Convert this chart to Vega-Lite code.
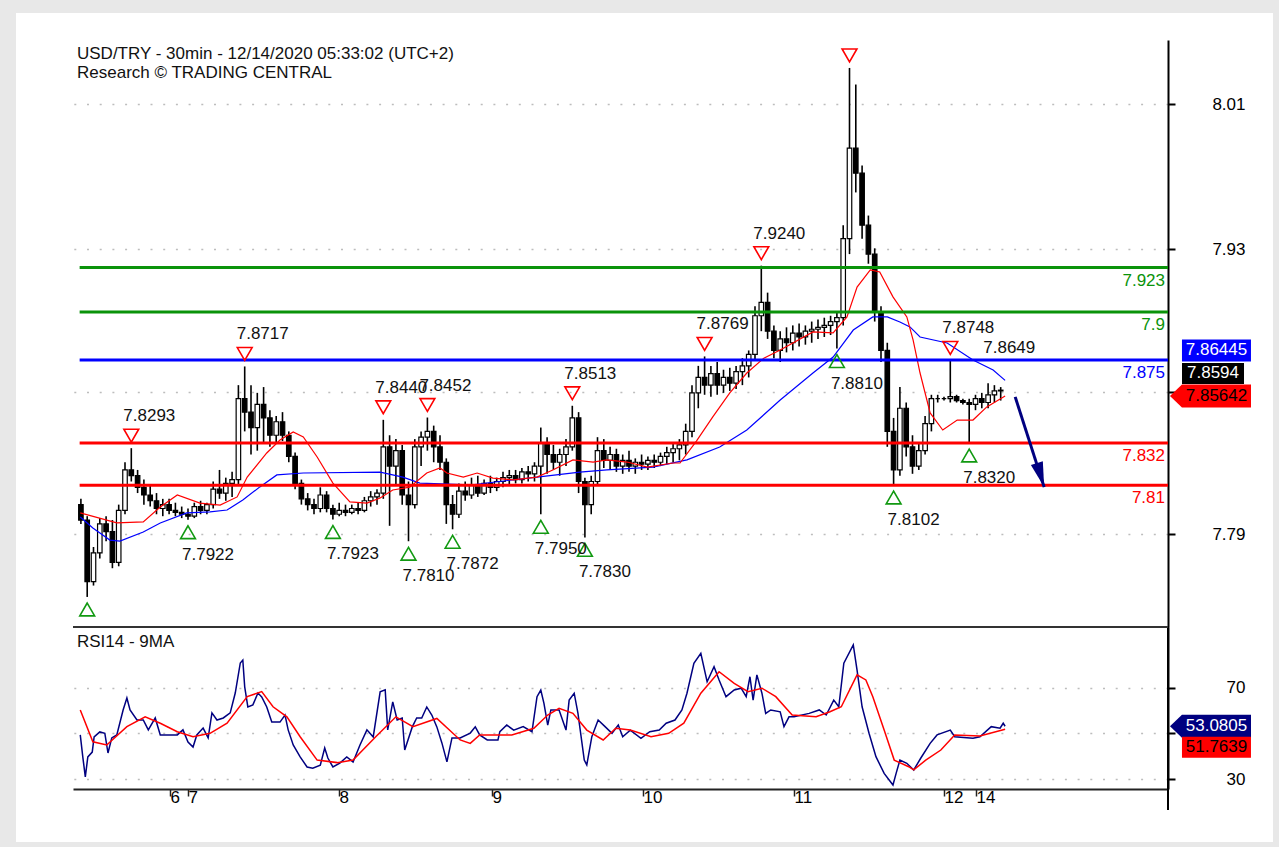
{
"$schema":"https://vega.github.io/schema/vega-lite/v6.json",
"width":1095,"height":749,
"autosize":{"type":"none"},
"padding":{"left":73,"top":40,"right":111,"bottom":58},
"background":"white",
"config":{"font":"Liberation Sans","view":{"stroke":null},"axis":{"titleOpacity":0,"labelFont":"Liberation Sans"}},
"datasets":{
"bars":[
{"t":-17,"o":7.8,"hi":7.803,"lo":7.79,"c":7.792},
{"t":-16,"o":7.792,"hi":7.794,"lo":7.7521,"c":7.76},
{"t":-15,"o":7.76,"hi":7.778,"lo":7.758,"c":7.775},
{"t":-14,"o":7.775,"hi":7.793,"lo":7.772,"c":7.79},
{"t":-13,"o":7.79,"hi":7.794,"lo":7.781,"c":7.786},
{"t":-12,"o":7.786,"hi":7.792,"lo":7.767,"c":7.77},
{"t":-11,"o":7.77,"hi":7.8,"lo":7.768,"c":7.797},
{"t":-10,"o":7.797,"hi":7.822,"lo":7.795,"c":7.818},
{"t":-9,"o":7.818,"hi":7.8293,"lo":7.812,"c":7.815},
{"t":-8,"o":7.815,"hi":7.818,"lo":7.806,"c":7.809},
{"t":-7,"o":7.809,"hi":7.813,"lo":7.8,"c":7.805},
{"t":-6,"o":7.805,"hi":7.81,"lo":7.799,"c":7.802},
{"t":-5,"o":7.802,"hi":7.806,"lo":7.795,"c":7.798},
{"t":-4,"o":7.798,"hi":7.803,"lo":7.794,"c":7.8},
{"t":-3,"o":7.8,"hi":7.803,"lo":7.795,"c":7.797},
{"t":-2,"o":7.797,"hi":7.801,"lo":7.794,"c":7.796},
{"t":-1,"o":7.796,"hi":7.799,"lo":7.793,"c":7.795},
{"t":0,"o":7.795,"hi":7.798,"lo":7.7922,"c":7.794},
{"t":1,"o":7.794,"hi":7.801,"lo":7.793,"c":7.799},
{"t":2,"o":7.799,"hi":7.802,"lo":7.795,"c":7.797},
{"t":3,"o":7.797,"hi":7.801,"lo":7.795,"c":7.8},
{"t":4,"o":7.8,"hi":7.812,"lo":7.798,"c":7.808},
{"t":5,"o":7.808,"hi":7.818,"lo":7.803,"c":7.806},
{"t":6,"o":7.806,"hi":7.814,"lo":7.802,"c":7.811},
{"t":7,"o":7.811,"hi":7.817,"lo":7.804,"c":7.813},
{"t":8,"o":7.813,"hi":7.862,"lo":7.81,"c":7.855},
{"t":9,"o":7.855,"hi":7.8717,"lo":7.838,"c":7.848},
{"t":10,"o":7.848,"hi":7.862,"lo":7.826,"c":7.84},
{"t":11,"o":7.84,"hi":7.858,"lo":7.828,"c":7.852},
{"t":12,"o":7.852,"hi":7.861,"lo":7.832,"c":7.845},
{"t":13,"o":7.845,"hi":7.849,"lo":7.83,"c":7.836},
{"t":14,"o":7.836,"hi":7.846,"lo":7.832,"c":7.843},
{"t":15,"o":7.843,"hi":7.848,"lo":7.833,"c":7.836},
{"t":16,"o":7.836,"hi":7.838,"lo":7.822,"c":7.825},
{"t":17,"o":7.825,"hi":7.827,"lo":7.808,"c":7.811},
{"t":18,"o":7.811,"hi":7.813,"lo":7.8,"c":7.803},
{"t":19,"o":7.803,"hi":7.806,"lo":7.797,"c":7.8},
{"t":20,"o":7.8,"hi":7.803,"lo":7.795,"c":7.798},
{"t":21,"o":7.798,"hi":7.809,"lo":7.796,"c":7.805},
{"t":22,"o":7.805,"hi":7.807,"lo":7.796,"c":7.798},
{"t":23,"o":7.798,"hi":7.8,"lo":7.7923,"c":7.795},
{"t":24,"o":7.795,"hi":7.801,"lo":7.794,"c":7.797},
{"t":25,"o":7.797,"hi":7.8,"lo":7.794,"c":7.796},
{"t":26,"o":7.796,"hi":7.8,"lo":7.795,"c":7.798},
{"t":27,"o":7.798,"hi":7.801,"lo":7.795,"c":7.797},
{"t":28,"o":7.797,"hi":7.804,"lo":7.796,"c":7.802},
{"t":29,"o":7.802,"hi":7.807,"lo":7.799,"c":7.804},
{"t":30,"o":7.804,"hi":7.808,"lo":7.8,"c":7.806},
{"t":31,"o":7.806,"hi":7.844,"lo":7.803,"c":7.83},
{"t":32,"o":7.83,"hi":7.836,"lo":7.789,"c":7.82},
{"t":33,"o":7.82,"hi":7.834,"lo":7.81,"c":7.828},
{"t":34,"o":7.828,"hi":7.831,"lo":7.8,"c":7.805},
{"t":35,"o":7.805,"hi":7.812,"lo":7.781,"c":7.8},
{"t":36,"o":7.8,"hi":7.834,"lo":7.798,"c":7.83},
{"t":37,"o":7.83,"hi":7.838,"lo":7.82,"c":7.835},
{"t":38,"o":7.835,"hi":7.8452,"lo":7.828,"c":7.838},
{"t":39,"o":7.838,"hi":7.841,"lo":7.822,"c":7.83},
{"t":40,"o":7.83,"hi":7.836,"lo":7.818,"c":7.822},
{"t":41,"o":7.822,"hi":7.824,"lo":7.79,"c":7.8},
{"t":42,"o":7.8,"hi":7.805,"lo":7.7872,"c":7.795},
{"t":43,"o":7.795,"hi":7.811,"lo":7.793,"c":7.807},
{"t":44,"o":7.807,"hi":7.812,"lo":7.802,"c":7.805},
{"t":45,"o":7.805,"hi":7.814,"lo":7.803,"c":7.81},
{"t":46,"o":7.81,"hi":7.815,"lo":7.804,"c":7.806},
{"t":47,"o":7.806,"hi":7.813,"lo":7.805,"c":7.811},
{"t":48,"o":7.811,"hi":7.815,"lo":7.806,"c":7.809},
{"t":49,"o":7.809,"hi":7.814,"lo":7.807,"c":7.812},
{"t":50,"o":7.812,"hi":7.817,"lo":7.809,"c":7.814},
{"t":51,"o":7.814,"hi":7.818,"lo":7.81,"c":7.815},
{"t":52,"o":7.815,"hi":7.818,"lo":7.811,"c":7.813},
{"t":53,"o":7.813,"hi":7.819,"lo":7.811,"c":7.817},
{"t":54,"o":7.817,"hi":7.82,"lo":7.812,"c":7.816},
{"t":55,"o":7.816,"hi":7.822,"lo":7.812,"c":7.82},
{"t":56,"o":7.82,"hi":7.84,"lo":7.795,"c":7.832},
{"t":57,"o":7.832,"hi":7.835,"lo":7.816,"c":7.826},
{"t":58,"o":7.826,"hi":7.831,"lo":7.818,"c":7.822},
{"t":59,"o":7.822,"hi":7.829,"lo":7.815,"c":7.826},
{"t":60,"o":7.826,"hi":7.834,"lo":7.82,"c":7.83},
{"t":61,"o":7.83,"hi":7.8513,"lo":7.828,"c":7.845},
{"t":62,"o":7.845,"hi":7.848,"lo":7.806,"c":7.812},
{"t":63,"o":7.812,"hi":7.814,"lo":7.783,"c":7.8},
{"t":64,"o":7.8,"hi":7.815,"lo":7.795,"c":7.812},
{"t":65,"o":7.812,"hi":7.835,"lo":7.81,"c":7.828},
{"t":66,"o":7.828,"hi":7.834,"lo":7.819,"c":7.823},
{"t":67,"o":7.823,"hi":7.83,"lo":7.818,"c":7.826},
{"t":68,"o":7.826,"hi":7.829,"lo":7.817,"c":7.82},
{"t":69,"o":7.82,"hi":7.826,"lo":7.816,"c":7.823},
{"t":70,"o":7.823,"hi":7.828,"lo":7.817,"c":7.82},
{"t":71,"o":7.82,"hi":7.824,"lo":7.816,"c":7.822},
{"t":72,"o":7.822,"hi":7.826,"lo":7.818,"c":7.821},
{"t":73,"o":7.821,"hi":7.825,"lo":7.818,"c":7.823},
{"t":74,"o":7.823,"hi":7.826,"lo":7.819,"c":7.822},
{"t":75,"o":7.822,"hi":7.827,"lo":7.82,"c":7.825},
{"t":76,"o":7.825,"hi":7.83,"lo":7.821,"c":7.827},
{"t":77,"o":7.827,"hi":7.832,"lo":7.822,"c":7.829},
{"t":78,"o":7.829,"hi":7.834,"lo":7.823,"c":7.831},
{"t":79,"o":7.831,"hi":7.842,"lo":7.826,"c":7.838},
{"t":80,"o":7.838,"hi":7.862,"lo":7.835,"c":7.858},
{"t":81,"o":7.858,"hi":7.872,"lo":7.85,"c":7.866},
{"t":82,"o":7.866,"hi":7.8769,"lo":7.857,"c":7.862},
{"t":83,"o":7.862,"hi":7.872,"lo":7.856,"c":7.868},
{"t":84,"o":7.868,"hi":7.874,"lo":7.857,"c":7.862},
{"t":85,"o":7.862,"hi":7.87,"lo":7.858,"c":7.866},
{"t":86,"o":7.866,"hi":7.871,"lo":7.859,"c":7.863},
{"t":87,"o":7.863,"hi":7.872,"lo":7.86,"c":7.869},
{"t":88,"o":7.869,"hi":7.876,"lo":7.862,"c":7.872},
{"t":89,"o":7.872,"hi":7.88,"lo":7.866,"c":7.878},
{"t":90,"o":7.878,"hi":7.903,"lo":7.875,"c":7.898},
{"t":91,"o":7.898,"hi":7.924,"lo":7.89,"c":7.905},
{"t":92,"o":7.905,"hi":7.91,"lo":7.886,"c":7.89},
{"t":93,"o":7.89,"hi":7.893,"lo":7.876,"c":7.88},
{"t":94,"o":7.88,"hi":7.89,"lo":7.874,"c":7.886},
{"t":95,"o":7.886,"hi":7.892,"lo":7.879,"c":7.884},
{"t":96,"o":7.884,"hi":7.893,"lo":7.88,"c":7.889},
{"t":97,"o":7.889,"hi":7.894,"lo":7.882,"c":7.887},
{"t":98,"o":7.887,"hi":7.893,"lo":7.883,"c":7.89},
{"t":99,"o":7.89,"hi":7.895,"lo":7.884,"c":7.891},
{"t":100,"o":7.891,"hi":7.896,"lo":7.886,"c":7.892},
{"t":101,"o":7.892,"hi":7.897,"lo":7.887,"c":7.893},
{"t":102,"o":7.893,"hi":7.898,"lo":7.888,"c":7.895},
{"t":103,"o":7.895,"hi":7.9,"lo":7.881,"c":7.897},
{"t":104,"o":7.897,"hi":7.945,"lo":7.893,"c":7.938},
{"t":105,"o":7.938,"hi":8.0266,"lo":7.93,"c":7.985},
{"t":106,"o":7.985,"hi":8.018,"lo":7.962,"c":7.972},
{"t":107,"o":7.972,"hi":7.976,"lo":7.938,"c":7.945},
{"t":108,"o":7.945,"hi":7.95,"lo":7.925,"c":7.93},
{"t":109,"o":7.93,"hi":7.933,"lo":7.895,"c":7.9},
{"t":110,"o":7.9,"hi":7.903,"lo":7.874,"c":7.88},
{"t":111,"o":7.88,"hi":7.884,"lo":7.83,"c":7.838},
{"t":112,"o":7.838,"hi":7.845,"lo":7.8102,"c":7.818},
{"t":113,"o":7.818,"hi":7.861,"lo":7.815,"c":7.85},
{"t":114,"o":7.85,"hi":7.853,"lo":7.825,"c":7.83},
{"t":115,"o":7.83,"hi":7.836,"lo":7.816,"c":7.82},
{"t":116,"o":7.82,"hi":7.832,"lo":7.818,"c":7.828},
{"t":117,"o":7.828,"hi":7.846,"lo":7.826,"c":7.842},
{"t":118,"o":7.842,"hi":7.857,"lo":7.838,"c":7.855},
{"t":119,"o":7.855,"hi":7.857,"lo":7.853,"c":7.855},
{"t":120,"o":7.855,"hi":7.856,"lo":7.854,"c":7.855},
{"t":121,"o":7.855,"hi":7.8748,"lo":7.853,"c":7.856},
{"t":122,"o":7.856,"hi":7.857,"lo":7.853,"c":7.854},
{"t":123,"o":7.854,"hi":7.855,"lo":7.852,"c":7.853},
{"t":124,"o":7.853,"hi":7.855,"lo":7.832,"c":7.852},
{"t":125,"o":7.852,"hi":7.857,"lo":7.849,"c":7.855},
{"t":126,"o":7.855,"hi":7.858,"lo":7.85,"c":7.853},
{"t":127,"o":7.853,"hi":7.863,"lo":7.85,"c":7.857},
{"t":128,"o":7.857,"hi":7.862,"lo":7.853,"c":7.859},
{"t":129,"o":7.859,"hi":7.861,"lo":7.854,"c":7.8594}
],
"maFast":[
{"t":-17.1,"v":7.7957},{"t":-11.3,"v":7.7905},{"t":-7.1,"v":7.791},{"t":-4.4,"v":7.7988},{"t":-1.7,"v":7.805},{"t":1.9,"v":7.8008},{"t":5.1,"v":7.7998},{"t":7.8,"v":7.804},{"t":9.4,"v":7.8143},{"t":12.5,"v":7.8268},{"t":14.6,"v":7.8335},{"t":16.7,"v":7.8377},{"t":18.3,"v":7.8351},{"t":20.5,"v":7.8247},{"t":23,"v":7.8112},{"t":25.7,"v":7.8014},{"t":28.4,"v":7.8008},{"t":30.5,"v":7.8034},{"t":32.5,"v":7.8076},{"t":35.2,"v":7.8091},{"t":37.9,"v":7.8164},{"t":40,"v":7.819},{"t":41.1,"v":7.8164},{"t":43.7,"v":7.8143},{"t":45.9,"v":7.8164},{"t":48.4,"v":7.8138},{"t":51.6,"v":7.8128},{"t":55.4,"v":7.8143},{"t":57.9,"v":7.818},{"t":61.1,"v":7.8232},{"t":64.3,"v":7.8221},{"t":66.5,"v":7.8232},{"t":69.7,"v":7.8221},{"t":72.9,"v":7.8195},{"t":77,"v":7.8216},{"t":78.1,"v":7.8216},{"t":80.7,"v":7.833},{"t":83.3,"v":7.8455},{"t":86,"v":7.858},{"t":88.7,"v":7.8683},{"t":91.4,"v":7.876},{"t":94,"v":7.8802},{"t":99.2,"v":7.8896},{"t":102.4,"v":7.8891},{"t":104.6,"v":7.8974},{"t":106.2,"v":7.9129},{"t":108.3,"v":7.9218},{"t":109.8,"v":7.9207},{"t":111.9,"v":7.9078},{"t":114.1,"v":7.8974},{"t":115.1,"v":7.8854},{"t":116.2,"v":7.8683},{"t":117.8,"v":7.8476},{"t":119.8,"v":7.8387},{"t":122.1,"v":7.8439},{"t":124.6,"v":7.8439},{"t":126.8,"v":7.8507},{"t":129.7,"v":7.8564}
],
"maSlow":[
{"t":-17.1,"v":7.7936},{"t":-15.1,"v":7.7879},{"t":-12.4,"v":7.7816},{"t":-10.8,"v":7.7811},{"t":-7.1,"v":7.7858},{"t":-4.4,"v":7.7905},{"t":-0.2,"v":7.7957},{"t":3.5,"v":7.7962},{"t":6.2,"v":7.7972},{"t":8.7,"v":7.8024},{"t":11.4,"v":7.8092},{"t":14.1,"v":7.8154},{"t":18.3,"v":7.8164},{"t":30.5,"v":7.8169},{"t":34.1,"v":7.8143},{"t":36.8,"v":7.8112},{"t":44.8,"v":7.8102},{"t":55.4,"v":7.8143},{"t":62.2,"v":7.8169},{"t":66.5,"v":7.818},{"t":73.8,"v":7.8195},{"t":79.2,"v":7.8232},{"t":84.4,"v":7.8299},{"t":88.7,"v":7.8387},{"t":94,"v":7.8543},{"t":99.2,"v":7.8683},{"t":102.4,"v":7.8766},{"t":105.6,"v":7.8906},{"t":108.7,"v":7.8974},{"t":111,"v":7.8974},{"t":113,"v":7.8948},{"t":114.6,"v":7.8922},{"t":116.2,"v":7.887},{"t":120.5,"v":7.8839},{"t":124.6,"v":7.875},{"t":127.8,"v":7.8699},{"t":129.7,"v":7.8645}
],
"levels":[
{"level":7.923,"kind":"resistance"},{"level":7.9,"kind":"resistance"},{"level":7.875,"kind":"pivot"},{"level":7.832,"kind":"support"},{"level":7.81,"kind":"support"}
],
"pivots":[
{"t":-9,"price":7.8293,"kind":"high","marked":true,"labelled":true},
{"t":9,"price":7.8717,"kind":"high","marked":true,"labelled":true},
{"t":31,"price":7.844,"kind":"high","marked":true,"labelled":true},
{"t":38,"price":7.8452,"kind":"high","marked":true,"labelled":true},
{"t":61,"price":7.8513,"kind":"high","marked":true,"labelled":true},
{"t":82,"price":7.8769,"kind":"high","marked":true,"labelled":true},
{"t":91,"price":7.924,"kind":"high","marked":true,"labelled":true},
{"t":105,"price":8.0266,"kind":"high","marked":true,"labelled":false},
{"t":121,"price":7.8748,"kind":"high","marked":true,"labelled":true},
{"t":127.5,"price":7.8649,"kind":"high","marked":false,"labelled":true},
{"t":-16,"price":7.7521,"kind":"low","marked":true,"labelled":false},
{"t":0,"price":7.7922,"kind":"low","marked":true,"labelled":true},
{"t":23,"price":7.7923,"kind":"low","marked":true,"labelled":true},
{"t":35,"price":7.781,"kind":"low","marked":true,"labelled":true},
{"t":42,"price":7.7872,"kind":"low","marked":true,"labelled":true},
{"t":56,"price":7.795,"kind":"low","marked":true,"labelled":true},
{"t":63,"price":7.783,"kind":"low","marked":true,"labelled":true},
{"t":103,"price":7.881,"kind":"low","marked":true,"labelled":true},
{"t":112,"price":7.8102,"kind":"low","marked":true,"labelled":true},
{"t":124,"price":7.832,"kind":"low","marked":true,"labelled":true}
],
"arrow":[{"t":131.3,"price":7.8559},{"t":135.9,"price":7.8091}],
"tags":[
{"series":"MA slow","value":7.86445},{"series":"Last","value":7.8594},{"series":"MA fast","value":7.85642},{"series":"RSI","value":53.0805},{"series":"RSI MA","value":51.7639}
],
"rsi":[
{"t":-17.1,"v":49.3},{"t":-16.7,"v":39.7},{"t":-16.3,"v":31},{"t":-15.9,"v":39.7},{"t":-15.2,"v":41.8},{"t":-14.9,"v":48.4},{"t":-14,"v":50.6},{"t":-13.2,"v":50},{"t":-12.7,"v":41.4},{"t":-12.1,"v":48},{"t":-11.3,"v":49.3},{"t":-10.3,"v":60.2},{"t":-9.7,"v":65.4},{"t":-9.2,"v":60.2},{"t":-8.1,"v":55.8},{"t":-7.1,"v":55.8},{"t":-6.3,"v":51.5},{"t":-5.2,"v":56.7},{"t":-4.4,"v":49.3},{"t":-1.7,"v":49.3},{"t":-0.8,"v":51.5},{"t":0,"v":46.2},{"t":0.8,"v":44},{"t":1.4,"v":49.3},{"t":2.4,"v":52.3},{"t":3.2,"v":48},{"t":3.8,"v":58.9},{"t":4.6,"v":55.8},{"t":5.6,"v":56.7},{"t":6.7,"v":58.9},{"t":7.5,"v":67.6},{"t":8.3,"v":80.7},{"t":8.7,"v":82},{"t":9,"v":70.3},{"t":9.5,"v":61.5},{"t":10.3,"v":62.4},{"t":11.1,"v":67.6},{"t":11.7,"v":65.9},{"t":12.5,"v":61.5},{"t":13.3,"v":54.9},{"t":14.6,"v":54.9},{"t":15.4,"v":58},{"t":15.9,"v":51.5},{"t":16.7,"v":44.9},{"t":17.8,"v":39.7},{"t":18.9,"v":35.3},{"t":19.8,"v":34.8},{"t":21,"v":36.1},{"t":21.7,"v":43.6},{"t":22.2,"v":39.2},{"t":23,"v":35.3},{"t":24.1,"v":37},{"t":25.2,"v":39.7},{"t":26.2,"v":37.5},{"t":27.3,"v":44.9},{"t":28.4,"v":51.5},{"t":29.4,"v":48.4},{"t":30.5,"v":68.1},{"t":31.3,"v":69},{"t":31.7,"v":51.5},{"t":32.5,"v":63.7},{"t":33.2,"v":55.8},{"t":34,"v":56.7},{"t":34.4,"v":42.7},{"t":35.6,"v":52.8},{"t":36.3,"v":56.7},{"t":37.1,"v":56.7},{"t":37.9,"v":61.5},{"t":38.7,"v":58},{"t":39.5,"v":52.8},{"t":40.3,"v":45.8},{"t":41.1,"v":37.5},{"t":41.9,"v":48},{"t":43.2,"v":48},{"t":44.8,"v":50.1},{"t":45.6,"v":52.8},{"t":46.3,"v":49.3},{"t":47.5,"v":47.1},{"t":49.2,"v":47.1},{"t":49.5,"v":50.7},{"t":50.6,"v":53.6},{"t":51.7,"v":51.4},{"t":53.2,"v":52.9},{"t":54.6,"v":50.7},{"t":55.4,"v":66},{"t":56,"v":68.9},{"t":56.5,"v":63.1},{"t":57.1,"v":53.6},{"t":57.6,"v":60.2},{"t":58.9,"v":60.2},{"t":60,"v":51.4},{"t":60.5,"v":64.5},{"t":61.3,"v":67.5},{"t":61.9,"v":58.7},{"t":62.9,"v":38.3},{"t":63.3,"v":36.2},{"t":64.1,"v":48.5},{"t":65.1,"v":55.8},{"t":66.2,"v":52.9},{"t":67.3,"v":50},{"t":68.3,"v":53.6},{"t":69,"v":48.5},{"t":70.2,"v":51.4},{"t":71.9,"v":47.8},{"t":73.3,"v":50.7},{"t":74.8,"v":51.4},{"t":75.9,"v":54.4},{"t":77.3,"v":55.8},{"t":78.4,"v":60.2},{"t":79.2,"v":67.5},{"t":80.3,"v":80.6},{"t":81.4,"v":84.9},{"t":82.4,"v":72.5},{"t":83.5,"v":79.1},{"t":84.3,"v":73.3},{"t":85.4,"v":66},{"t":86.7,"v":68.9},{"t":87.8,"v":69.7},{"t":88.6,"v":66},{"t":89.2,"v":74.7},{"t":89.7,"v":64.5},{"t":90.3,"v":75.5},{"t":91.1,"v":67.5},{"t":91.7,"v":58.7},{"t":92.5,"v":60.2},{"t":94,"v":59.4},{"t":94.6,"v":52.9},{"t":95.4,"v":57.2},{"t":96.2,"v":57.2},{"t":98.6,"v":58.7},{"t":100.2,"v":60.2},{"t":101.3,"v":58},{"t":102.5,"v":64.5},{"t":103.3,"v":61.6},{"t":104.1,"v":80.6},{"t":105.6,"v":88.6},{"t":106.2,"v":77.6},{"t":107,"v":61.6},{"t":108.1,"v":50},{"t":109.2,"v":39.8},{"t":110.5,"v":32.5},{"t":111.9,"v":27.4},{"t":112.4,"v":32.5},{"t":113,"v":38.3},{"t":114.1,"v":36.9},{"t":115.2,"v":34},{"t":116.3,"v":39.1},{"t":117.8,"v":45.6},{"t":118.9,"v":49.3},{"t":121,"v":51.4},{"t":121.7,"v":48.5},{"t":124.6,"v":47.8},{"t":125.7,"v":48.5},{"t":127.5,"v":52.9},{"t":128.9,"v":52.2},{"t":129.4,"v":54.4},{"t":129.7,"v":53.08}
],
"rsiMa":[
{"t":-17.1,"v":60.2},{"t":-15.1,"v":46.3},{"t":-12.9,"v":44.9},{"t":-9.7,"v":52.9},{"t":-6.8,"v":57.2},{"t":-4.4,"v":54.4},{"t":-1.7,"v":50.7},{"t":0.8,"v":48.5},{"t":3.5,"v":50},{"t":6.2,"v":54.4},{"t":9.4,"v":66},{"t":11.7,"v":68.2},{"t":13.5,"v":61.6},{"t":15.7,"v":57.2},{"t":17.8,"v":48.5},{"t":20.5,"v":38.3},{"t":23.7,"v":37.2},{"t":26.2,"v":38.3},{"t":29.8,"v":48.5},{"t":33,"v":57.2},{"t":35.7,"v":52.9},{"t":39.5,"v":56.5},{"t":43.2,"v":47.1},{"t":44.8,"v":45.6},{"t":46.3,"v":49.3},{"t":51.4,"v":49.3},{"t":54.9,"v":52.2},{"t":57.1,"v":58},{"t":58.9,"v":60.9},{"t":61.1,"v":58.7},{"t":63.3,"v":51.4},{"t":65.9,"v":47.1},{"t":67.9,"v":52.2},{"t":70.2,"v":51.4},{"t":73.5,"v":48.5},{"t":76.3,"v":50},{"t":78.7,"v":54.4},{"t":81.4,"v":67.5},{"t":84.3,"v":76.9},{"t":86.7,"v":71.8},{"t":88.9,"v":68.2},{"t":91.1,"v":69.7},{"t":93.3,"v":66},{"t":95.9,"v":58},{"t":99.7,"v":57.2},{"t":101.9,"v":59.4},{"t":103.7,"v":61.6},{"t":106.2,"v":75.5},{"t":107.6,"v":73.3},{"t":108.7,"v":66},{"t":110.5,"v":51.4},{"t":112.1,"v":38.3},{"t":114.4,"v":35.4},{"t":115.2,"v":34},{"t":117.1,"v":38.3},{"t":119.5,"v":42.7},{"t":121.7,"v":49.3},{"t":125.7,"v":48.8},{"t":129.7,"v":51.76}
]
},
"resolve":{"scale":{"y":"independent"},"axis":{"y":"independent"}},
"layer":[
{
"layer":[
{"data":{"values":[{"part":"frame"}]},
 "mark":{"type":"rect","fill":"transparent","stroke":"#e8e8e8","strokeWidth":26},
 "encoding":{"x":{"datum":-29.365,"type":"quantitative"},"x2":{"datum":174.286},"y":{"datum":8.0619,"type":"quantitative"},"y2":{"datum":7.6182}}},
{"data":{"name":"bars"},
 "mark":{"type":"rule","color":"#000","strokeWidth":1.6},
 "encoding":{
  "x":{"field":"t","type":"quantitative","title":null,
   "scale":{"domain":[-18.254,155.556],"nice":false,"zero":false,"padding":0},
   "axis":{"title":null,"values":[-2.857,0,23.97,48.25,72.22,96.19,120,125.08],
    "labelExpr":"datum.value < -1 ? '6' : datum.value < 1 ? '7' : datum.value < 30 ? '8' : datum.value < 60 ? '9' : datum.value < 80 ? '10' : datum.value < 110 ? '11' : datum.value < 122 ? '12' : '14'",
    "grid":false,"domainColor":"#222","domainWidth":2,"tickColor":"#222","tickSize":7,"tickWidth":1.5,
    "labelAlign":"left","labelBaseline":"top","labelPadding":-7,"labelDx":3,"labelFontSize":17,"labelColor":"#000","labelFlush":false,"labelOverlap":false}},
  "y":{"field":"lo","type":"quantitative","title":null,
   "scale":{"domain":[7.7365,8.0411],"range":[587,0],"nice":false,"zero":false,"padding":0},
   "axis":{"orient":"right","title":null,"values":[8.0077,7.9326,7.8586,7.7846],
    "labelExpr":"datum.value > 8 ? '8.01' : datum.value > 7.9 ? '7.93' : datum.value > 7.8 ? '' : '7.79'",
    "grid":true,"gridColor":"#bdbdbd","gridDash":[2,10.7],"gridWidth":1.5,
    "domainColor":"#000","domainWidth":2,"tickColor":"#000","tickSize":7,"tickWidth":2,
    "labelAlign":"right","labelBaseline":"middle","labelPadding":70,"labelFontSize":17,"labelColor":"#000"}},
  "y2":{"field":"hi"}}},
{"data":{"name":"bars"},
 "mark":{"type":"bar","width":4.5,"stroke":"#000","strokeWidth":1.2},
 "encoding":{"x":{"field":"t","type":"quantitative"},"y":{"field":"o","type":"quantitative"},"y2":{"field":"c"},
  "fill":{"condition":{"test":"datum.c < datum.o","value":"#000000"},"value":"#ffffff"}}},
{"data":{"name":"maSlow"},
 "mark":{"type":"line","color":"#0000ff","strokeWidth":1.2},
 "encoding":{"x":{"field":"t","type":"quantitative"},"y":{"field":"v","type":"quantitative"}}},
{"data":{"name":"maFast"},
 "mark":{"type":"line","color":"#ff0000","strokeWidth":1.2},
 "encoding":{"x":{"field":"t","type":"quantitative"},"y":{"field":"v","type":"quantitative"}}},
{"data":{"name":"levels"},
 "mark":{"type":"rule","strokeWidth":3},
 "encoding":{"x":{"datum":-17.2,"type":"quantitative"},"x2":{"datum":155.556},"y":{"field":"level","type":"quantitative"},
  "color":{"field":"kind","type":"nominal","legend":null,"scale":{"domain":["resistance","pivot","support"],"range":["#0a930a","#0000ff","#ff0000"]}}}},
{"data":{"name":"levels"},
 "mark":{"type":"text","align":"right","baseline":"middle","dx":-3,"dy":13,"fontSize":17},
 "encoding":{"x":{"datum":155.556,"type":"quantitative"},"y":{"field":"level","type":"quantitative"},"text":{"field":"level","type":"nominal"},
  "color":{"field":"kind","type":"nominal","legend":null,"scale":{"domain":["resistance","pivot","support"],"range":["#0a930a","#0000ff","#ff0000"]}}}},
{"data":{"name":"pivots"},"transform":[{"filter":"datum.kind == 'high' && datum.marked"}],
 "mark":{"type":"point","shape":"triangle-down","filled":false,"color":"#ff0000","strokeWidth":1.6,"size":220,"opacity":1,"yOffset":-12.5},
 "encoding":{"x":{"field":"t","type":"quantitative"},"y":{"field":"price","type":"quantitative"}}},
{"data":{"name":"pivots"},"transform":[{"filter":"datum.kind == 'low' && datum.marked"}],
 "mark":{"type":"point","shape":"triangle-up","filled":false,"color":"#119911","strokeWidth":1.6,"size":220,"opacity":1,"yOffset":12.5},
 "encoding":{"x":{"field":"t","type":"quantitative"},"y":{"field":"price","type":"quantitative"}}},
{"data":{"name":"pivots"},"transform":[{"filter":"datum.kind == 'high' && datum.labelled"}],
 "mark":{"type":"text","align":"left","baseline":"middle","dx":-8,"dy":-32,"fontSize":17,"color":"#111"},
 "encoding":{"x":{"field":"t","type":"quantitative"},"y":{"field":"price","type":"quantitative"},"text":{"field":"price","type":"quantitative","format":".4f"}}},
{"data":{"name":"pivots"},"transform":[{"filter":"datum.kind == 'low' && datum.labelled"}],
 "mark":{"type":"text","align":"left","baseline":"middle","dx":-6,"dy":35,"fontSize":17,"color":"#111"},
 "encoding":{"x":{"field":"t","type":"quantitative"},"y":{"field":"price","type":"quantitative"},"text":{"field":"price","type":"quantitative","format":".4f"}}},
{"data":{"name":"arrow"},
 "mark":{"type":"line","color":"#000080","strokeWidth":3},
 "encoding":{"x":{"field":"t","type":"quantitative"},"y":{"field":"price","type":"quantitative"}}},
{"data":{"name":"arrow"},"transform":[{"filter":"datum.t > 135"}],
 "mark":{"type":"point","shape":"M0,0L-0.5,-2L0.5,-2Z","size":625,"filled":true,"color":"#000080","opacity":1,"angle":343},
 "encoding":{"x":{"field":"t","type":"quantitative"},"y":{"field":"price","type":"quantitative"}}},
{"data":{"values":[{"part":"axis"}]},
 "mark":{"type":"rule","color":"#000","strokeWidth":2},
 "encoding":{"x":{"datum":155.556,"type":"quantitative"},"y":{"datum":7.7365,"type":"quantitative"},"y2":{"datum":7.6415}}},
{"data":{"values":[{"part":"separator"}]},
 "mark":{"type":"rule","color":"#333","strokeWidth":2},
 "encoding":{"y":{"datum":7.7365,"type":"quantitative"}}},
{"data":{"values":[{"line":"USD/TRY - 30min - 12/14/2020 05:33:02 (UTC+2)","pos":8.0311},{"line":"Research © TRADING CENTRAL","pos":8.0216}]},
 "mark":{"type":"text","align":"left","baseline":"alphabetic","fontSize":17,"color":"#111"},
 "encoding":{"x":{"datum":-17.62,"type":"quantitative"},"y":{"field":"pos","type":"quantitative"},"text":{"field":"line","type":"nominal"}}},
{"data":{"name":"tags"},"transform":[{"filter":"datum.series == 'MA slow'"}],
 "mark":{"type":"point","shape":"M-1,-0.319L1,-0.319L1,0.319L-1,0.319Z","size":4761,"filled":true,"color":"#0000ff","opacity":1,"yOffset":-30},
 "encoding":{"x":{"datum":163.25,"type":"quantitative"},"y":{"field":"value","type":"quantitative"}}},
{"data":{"name":"tags"},"transform":[{"filter":"datum.series == 'MA slow'"}],
 "mark":{"type":"text","align":"center","baseline":"middle","dy":-30,"fontSize":17,"color":"#ffffff"},
 "encoding":{"x":{"datum":163.25,"type":"quantitative"},"y":{"field":"value","type":"quantitative"},"text":{"field":"value","type":"nominal"}}},
{"data":{"name":"tags"},"transform":[{"filter":"datum.series == 'Last'"}],
 "mark":{"type":"point","shape":"M-1,-0.339L1,-0.339L1,0.339L-1,0.339Z","size":3844,"filled":true,"color":"#000000","opacity":1,"yOffset":-16.7},
 "encoding":{"x":{"datum":162.7,"type":"quantitative"},"y":{"field":"value","type":"quantitative"}}},
{"data":{"name":"tags"},"transform":[{"filter":"datum.series == 'Last'"}],
 "mark":{"type":"text","align":"center","baseline":"middle","dy":-16.7,"fontSize":17,"color":"#ffffff"},
 "encoding":{"x":{"datum":162.7,"type":"quantitative"},"y":{"field":"value","type":"quantitative"},"text":{"field":"value","type":"nominal"}}},
{"data":{"name":"tags"},"transform":[{"filter":"datum.series == 'MA fast'"}],
 "mark":{"type":"point","shape":"M-1,0L-0.704,-0.284L1,-0.284L1,0.284L-0.704,0.284Z","size":6561,"filled":true,"color":"#ff0000","opacity":1},
 "encoding":{"x":{"datum":162.3,"type":"quantitative"},"y":{"field":"value","type":"quantitative"}}},
{"data":{"name":"tags"},"transform":[{"filter":"datum.series == 'MA fast'"}],
 "mark":{"type":"text","align":"center","baseline":"middle","fontSize":17,"color":"#000000"},
 "encoding":{"x":{"datum":163.25,"type":"quantitative"},"y":{"field":"value","type":"quantitative"},"text":{"field":"value","type":"nominal"}}}
]
},
{
"layer":[
{"data":{"name":"rsi"},
 "mark":{"type":"line","color":"#000080","strokeWidth":1.5},
 "encoding":{"x":{"field":"t","type":"quantitative"},
  "y":{"field":"v","type":"quantitative","title":null,
   "scale":{"domain":[25.68,96.42],"range":[749,587],"nice":false,"zero":false},
   "axis":{"orient":"right","title":null,"values":[30,50,70],"labelExpr":"datum.value == 50 ? '' : datum.label",
    "grid":true,"gridColor":"#bdbdbd","gridDash":[2,10.7],"gridWidth":1.5,
    "domainColor":"#000","domainWidth":2,"tickColor":"#000","tickSize":7,"tickWidth":2,
    "labelAlign":"right","labelBaseline":"middle","labelPadding":70,"labelFontSize":17,"labelColor":"#000"}}}},
{"data":{"name":"rsiMa"},
 "mark":{"type":"line","color":"#ff0000","strokeWidth":1.5},
 "encoding":{"x":{"field":"t","type":"quantitative"},"y":{"field":"v","type":"quantitative"}}},
{"data":{"values":[{"name":"RSI14 - 9MA","pos":87.8}]},
 "mark":{"type":"text","align":"left","baseline":"alphabetic","fontSize":17,"color":"#111"},
 "encoding":{"x":{"datum":-17.62,"type":"quantitative"},"y":{"field":"pos","type":"quantitative"},"text":{"field":"name","type":"nominal"}}},
{"data":{"name":"tags"},"transform":[{"filter":"datum.series == 'RSI'"}],
 "mark":{"type":"point","shape":"M-1,0L-0.704,-0.284L1,-0.284L1,0.284L-0.704,0.284Z","size":6561,"filled":true,"color":"#000080","opacity":1},
 "encoding":{"x":{"datum":162.3,"type":"quantitative"},"y":{"field":"value","type":"quantitative"}}},
{"data":{"name":"tags"},"transform":[{"filter":"datum.series == 'RSI'"}],
 "mark":{"type":"text","align":"center","baseline":"middle","fontSize":17,"color":"#ffffff"},
 "encoding":{"x":{"datum":163.25,"type":"quantitative"},"y":{"field":"value","type":"quantitative"},"text":{"field":"value","type":"nominal"}}},
{"data":{"name":"tags"},"transform":[{"filter":"datum.series == 'RSI MA'"}],
 "mark":{"type":"point","shape":"M-1,-0.304L1,-0.304L1,0.304L-1,0.304Z","size":4761,"filled":true,"color":"#ff0000","opacity":1,"yOffset":18},
 "encoding":{"x":{"datum":163.25,"type":"quantitative"},"y":{"field":"value","type":"quantitative"}}},
{"data":{"name":"tags"},"transform":[{"filter":"datum.series == 'RSI MA'"}],
 "mark":{"type":"text","align":"center","baseline":"middle","dy":18,"fontSize":17,"color":"#000000"},
 "encoding":{"x":{"datum":163.25,"type":"quantitative"},"y":{"field":"value","type":"quantitative"},"text":{"field":"value","type":"nominal"}}}
]
}
]
}
